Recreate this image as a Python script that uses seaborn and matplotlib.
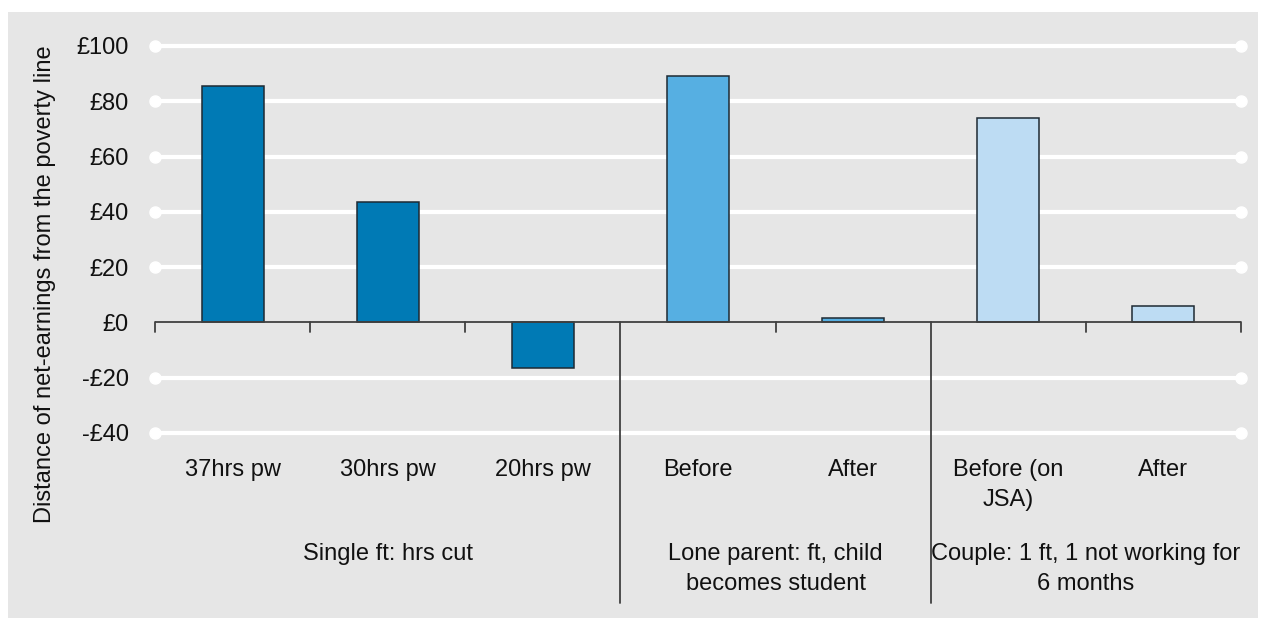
import matplotlib
matplotlib.use("Agg")
import matplotlib.pyplot as plt
import matplotlib.patches as mpatches
import seaborn as sns
import pandas as pd
import numpy as np

# Data
groups = ["Single ft: hrs cut", "Single ft: hrs cut", "Single ft: hrs cut",
          "Lone parent: ft, child\nbecomes student", "Lone parent: ft, child\nbecomes student",
          "Couple: 1 ft, 1 not working for\n6 months", "Couple: 1 ft, 1 not working for\n6 months"]
bar_labels = ["37hrs pw", "30hrs pw", "20hrs pw", "Before", "After", "Before (on\nJSA)", "After"]
values = [85.5, 43.5, -16.5, 89, 1.5, 74, 6]
group_colors = {
    "Single ft: hrs cut": "#007AB5",
    "Lone parent: ft, child\nbecomes student": "#56AFE2",
    "Couple: 1 ft, 1 not working for\n6 months": "#BDDCF3",
}
y_ticks = [-40, -20, 0, 20, 40, 60, 80, 100]

keys = [f"{g}|{l}" for g, l in zip(groups, bar_labels)]
df = pd.DataFrame({"key": keys, "group": groups, "label": bar_labels, "value": values})
palette = {k: group_colors[g] for k, g in zip(keys, groups)}

sns.set_theme(style="white")
plt.rcParams["font.family"] = ["Liberation Sans", "DejaVu Sans"]
FS = 17
BG = "#E6E6E6"

W, H = 1266, 627
fig = plt.figure(figsize=(W / 100, H / 100), dpi=100, facecolor="white")
fig.patches.append(mpatches.Rectangle((8 / W, 1 - 618 / H), 1250 / W, 606 / H,
                                      transform=fig.transFigure, facecolor=BG,
                                      edgecolor="none", zorder=-5))
left, right, top, bottom = 155, 1241, 46, 433
ax = fig.add_axes([left / W, 1 - bottom / H, (right - left) / W, (bottom - top) / H])
ax.set_zorder(2)
ax.set_facecolor("none")

sns.barplot(data=df, x="key", y="value", hue="key", palette=palette, order=keys,
            width=0.4, saturation=1, edgecolor="#1E2A33", linewidth=1.1,
            legend=False, ax=ax, zorder=3)

ax.set_xlim(-0.5, len(keys) - 0.5)
ax.set_ylim(y_ticks[0], y_ticks[-1])

# White gridlines with round end caps
for yv in y_ticks:
    if yv == 0:
        continue
    ax.plot([-0.5, len(keys) - 0.5], [yv, yv], color="white", lw=3, zorder=1,
            marker="o", markersize=8, markevery=[0, 1], clip_on=False,
            solid_capstyle="butt")

for s in ax.spines.values():
    s.set_visible(False)

# Zero axis line
ax.axhline(0, color="#404040", lw=1.3, zorder=4)

# Y ticks
ax.set_yticks(y_ticks)
ax.set_yticklabels([f"-£{abs(v)}" if v < 0 else f"£{v}" for v in y_ticks], fontsize=FS)
ax.tick_params(axis="y", length=0, pad=19, labelcolor="#111111")
ax.set_ylabel("Distance of net-earnings from the poverty line", fontsize=FS,
              color="#111111")
ax.yaxis.set_label_coords(-0.091, 0.385)

# X: no default ticks; boundary ticks drawn at y=0
ax.set_xticks([])
ax.set_xlabel("")
xt = ax.get_xaxis_transform()
y0 = (0 - y_ticks[0]) / (y_ticks[-1] - y_ticks[0])
tick_len = 10 / (bottom - top)
sep_bottom = (bottom - 603) / (bottom - top)

boundaries = np.arange(len(keys) + 1) - 0.5
group_edges = [i for i in range(1, len(keys)) if groups[i] != groups[i - 1]]
for i, b in enumerate(boundaries):
    lo = sep_bottom if i in group_edges else y0 - tick_len
    ax.plot([b, b], [y0, lo], transform=xt, color="#404040", lw=1.3, clip_on=False, zorder=4)

# Category labels
for i, lab in enumerate(bar_labels):
    ax.text(i, -0.066, lab, transform=xt, ha="center", va="top", fontsize=FS,
            color="#111111", linespacing=1.5)

# Group labels
starts = [0] + group_edges
ends = group_edges + [len(keys)]
for s, e in zip(starts, ends):
    ax.text((s + e - 1) / 2, -0.283, groups[s], transform=xt, ha="center", va="top",
            fontsize=FS, color="#111111", linespacing=1.5)

fig.savefig("out.png", dpi=100, facecolor="white")
